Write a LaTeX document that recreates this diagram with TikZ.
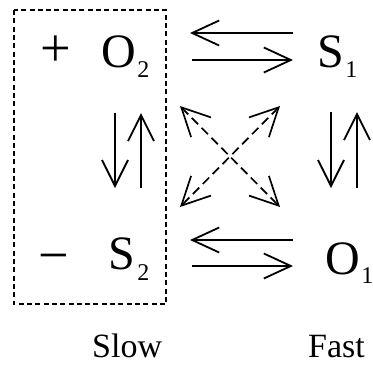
\documentclass[tikz,border=0pt]{standalone}
\usepackage{fontspec}
\setmainfont{Liberation Serif}
\usetikzlibrary{arrows.meta}
\newcommand\lowsub[2][-10pt]{\raisebox{#1}{\fontsize{24}{24}\selectfont #2}}
\begin{document}
\begin{tikzpicture}[x=1pt,y=-1pt,
  big/.style={font=\fontsize{48}{48}\selectfont, inner sep=0pt, anchor=base west},
  lbl/.style={font=\fontsize{34}{34}\selectfont, inner sep=0pt, anchor=base west},
  harrow/.style={line width=1.8pt, -{Straight Barb[length=27pt,width=25pt,line width=1.8pt]}},
  varrow/.style={line width=1.8pt, -{Straight Barb[length=26pt,width=26pt,line width=1.8pt]}},
  darrow/.style={line width=1.7pt, dash pattern=on 9pt off 5pt,
     {Straight Barb[length=28pt,width=28pt,line width=1.7pt]}-{Straight Barb[length=28pt,width=28pt,line width=1.7pt]}},
  slowbox/.style={draw, line width=1.4pt, dash pattern=on 5pt off 3.3pt}]
\useasboundingbox (0,0) rectangle (373,365);
% dashed box
\coordinate (boxTL) at (14,10);
\coordinate (boxBR) at (166,304);
\draw[slowbox] (boxTL) rectangle (boxBR);
% species
\node[big] (plus) at (40.5,66) {\scalebox{1.13}{+}};
\node[big] (O2) at (101,67) {O\kern1.5pt\lowsub{2}};
\node[big] (S1) at (317,67) {S\kern1.5pt\lowsub{1}};
\node[big] (minus) at (38.5,273) {\scalebox{1.13}{−}};
\node[big] (S2) at (108,269) {S\kern2.5pt\lowsub[-11pt]{2}};
\node[big] (O1) at (325.5,274) {O\kern1pt\lowsub[-9pt]{1}};
\node[lbl] (slow) at (92,357) {Slow};
\node[lbl] (fast) at (308,357) {Fast};
% horizontal arrow ends
\coordinate (tA1) at (293,33);  \coordinate (tA2) at (190,33);
\coordinate (tB1) at (192,60);  \coordinate (tB2) at (293,60);
\coordinate (bA1) at (293,240); \coordinate (bA2) at (190,240);
\coordinate (bB1) at (192,266); \coordinate (bB2) at (293,266);
\draw[harrow] (tA1) -- (tA2);
\draw[harrow] (tB1) -- (tB2);
\draw[harrow] (bA1) -- (bA2);
\draw[harrow] (bB1) -- (bB2);
% vertical arrow ends
\coordinate (lA1) at (115,113); \coordinate (lA2) at (115,188);
\coordinate (lB1) at (141,188); \coordinate (lB2) at (141,113);
\coordinate (rA1) at (331,112); \coordinate (rA2) at (331,188);
\coordinate (rB1) at (357,188); \coordinate (rB2) at (357,112);
\draw[varrow] (lA1) -- (lA2);
\draw[varrow] (lB1) -- (lB2);
\draw[varrow] (rA1) -- (rA2);
\draw[varrow] (rB1) -- (rB2);
% diagonal dashed arrows
\coordinate (dUL) at (180,106); \coordinate (dLR) at (280,207);
\coordinate (dUR) at (280,106); \coordinate (dLL) at (180,207);
\draw[darrow] (dUL) -- (dLR);
\draw[darrow] (dUR) -- (dLL);
\end{tikzpicture}
\end{document}
